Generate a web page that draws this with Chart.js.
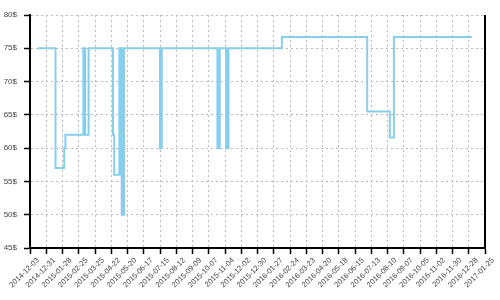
<!DOCTYPE html>
<html>
<head>
<meta charset="utf-8">
<script src="https://cdn.jsdelivr.net/npm/chart.js@4.4.1/dist/chart.umd.min.js"></script>
<style>
  html, body { margin: 0; padding: 0; background: #fff; }
  #wrap { position: relative; width: 500px; height: 300px; }
</style>
</head>
<body>
<div id="wrap"><canvas id="priceChart"></canvas></div>
<script>
// price history: each entry is the date the price changed and the new price
const changeDates = [
  "2014-12-17", "2015-01-16", "2015-01-31", "2015-02-02", "2015-03-05",
  "2015-03-08", "2015-03-14", "2015-04-25", "2015-04-27", "2015-05-06",
  "2015-05-08", "2015-05-09", "2015-05-10", "2015-05-12", "2015-05-13",
  "2015-05-14", "2015-07-15", "2015-07-16", "2015-07-17", "2015-07-18",
  "2015-10-22", "2015-10-24", "2015-10-25", "2015-10-26", "2015-11-06",
  "2015-11-08", "2015-11-09", "2015-11-10", "2016-02-10", "2016-07-06",
  "2016-08-14", "2016-08-21", "2017-01-02",
];
const prices = [
  75, 57, 60, 62, 75,
  62, 75, 62, 56, 75,
  56, 75, 50, 75, 50,
  75, 60, 75, 60, 75,
  60, 75, 60, 75, 60,
  75, 60, 75, 76.7, 65.5,
  61.6, 76.7, 76.7,
];

const tickLabels = [
  "2014-12-03", "2014-12-31", "2015-01-28", "2015-02-25", "2015-03-25",
  "2015-04-22", "2015-05-20", "2015-06-17", "2015-07-15", "2015-08-12",
  "2015-09-09", "2015-10-07", "2015-11-04", "2015-12-02", "2015-12-30",
  "2016-01-27", "2016-02-24", "2016-03-23", "2016-04-20", "2016-05-18",
  "2016-06-15", "2016-07-13", "2016-08-10", "2016-09-07", "2016-10-05",
  "2016-11-02", "2016-11-30", "2016-12-28", "2017-01-25",
];
const priceTicks = [45, 50, 55, 60, 65, 70, 75, 80];

const DAY = 86400000;
const origin = Date.parse(tickLabels[0] + "T00:00:00Z");
const dayOf = (d) => Math.round((Date.parse(d + "T00:00:00Z") - origin) / DAY);

const points = changeDates.map((d, i) => ({ x: dayOf(d), y: prices[i] }));

const labelFont = { family: "'Liberation Sans', Arial, sans-serif" };

// solid line on the right edge of the plot
const rightEdge = {
  id: "rightEdge",
  afterDraw(chart) {
    const { ctx, chartArea } = chart;
    ctx.save();
    ctx.strokeStyle = "#000";
    ctx.lineWidth = 2;
    ctx.beginPath();
    ctx.moveTo(chartArea.right, chartArea.top);
    ctx.lineTo(chartArea.right, chartArea.bottom);
    ctx.stroke();
    ctx.restore();
  },
};

new Chart(document.getElementById("priceChart"), {
  type: "line",
  data: {
    datasets: [
      {
        data: points,
        borderColor: "#87ceeb",
        borderWidth: 2,
        pointRadius: 0,
        stepped: "before",
        fill: false,
      },
    ],
  },
  options: {
    responsive: true,
    maintainAspectRatio: false,
    animation: false,
    layout: { padding: { top: 15, right: 15, left: 0, bottom: 0 } },
    plugins: { legend: { display: false }, tooltip: { enabled: false } },
    scales: {
      x: {
        type: "linear",
        min: 0,
        max: dayOf(tickLabels[tickLabels.length - 1]),
        afterBuildTicks: (scale) => {
          scale.ticks = tickLabels.map((d) => ({ value: dayOf(d) }));
        },
        afterFit: (scale) => { scale.height = 52; },
        ticks: {
          autoSkip: false,
          minRotation: 45,
          maxRotation: 45,
          padding: 2,
          labelOffset: 8,
          color: "#444",
          font: { ...labelFont, size: 7.5 },
          callback: (v, i) => tickLabels[i],
        },
        grid: { color: "#bbb", lineWidth: 1, tickColor: "#000", tickLength: 6, tickWidth: 1.5 },
        border: { color: "#000", width: 2, dash: [2, 3] },
      },
      y: {
        min: priceTicks[0],
        max: priceTicks[priceTicks.length - 1],
        afterBuildTicks: (scale) => {
          scale.ticks = priceTicks.map((v) => ({ value: v }));
        },
        afterFit: (scale) => { scale.width = 30; },
        ticks: {
          padding: 7,
          color: "#444",
          font: { ...labelFont, size: 8 },
          callback: (v) => v + "$",
        },
        grid: { color: "#bbb", lineWidth: 1, tickColor: "#000", tickLength: 6, tickWidth: 1.5 },
        border: { color: "#000", width: 2, dash: [2, 3] },
      },
    },
  },
  plugins: [rightEdge],
});
</script>
</body>
</html>
